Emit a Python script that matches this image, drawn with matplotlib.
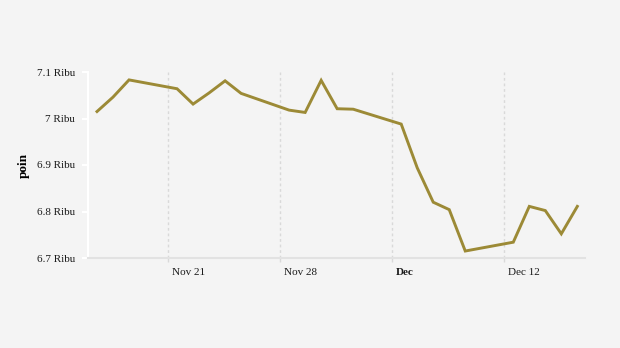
from datetime import datetime, timedelta

import matplotlib.pyplot as plt
import matplotlib.dates as mdates
import matplotlib.transforms as mtransforms


plt.rcParams['font.family'] = ['Liberation Serif', 'DejaVu Serif']

dates = ['2022-11-16', '2022-11-17', '2022-11-18', '2022-11-21', '2022-11-22',
         '2022-11-23', '2022-11-24', '2022-11-25', '2022-11-28', '2022-11-29',
         '2022-11-30', '2022-12-01', '2022-12-02', '2022-12-05', '2022-12-06',
         '2022-12-07', '2022-12-08', '2022-12-09', '2022-12-12', '2022-12-13',
         '2022-12-14', '2022-12-15', '2022-12-16']
values = [7015, 7046, 7083, 7064, 7031, 7055, 7081, 7054, 7018, 7013,
          7082, 7021, 7020, 6988, 6894, 6820, 6804, 6715, 6734, 6811,
          6802, 6752, 6811]

tick_dates = ['2022-11-21', '2022-11-28', '2022-12-05', '2022-12-12']
tick_labels = ['Nov 21', 'Nov 28', 'Dec', 'Dec 12']
y_ticks = [6700, 6800, 6900, 7000, 7100]
y_labels = ['6.7 Ribu', '6.8 Ribu', '6.9 Ribu', '7 Ribu', '7.1 Ribu']

bg = '#f4f4f4'
line_color = '#9c8a36'
grid_color = '#d9d9d9'

# closing time of the session, points sit past midnight
x = [datetime.strptime(d, '%Y-%m-%d') + timedelta(hours=13.5) for d in dates]
xt = [datetime.strptime(d, '%Y-%m-%d') for d in tick_dates]

fig = plt.figure(figsize=(6.2, 3.48), dpi=100, facecolor=bg)
ax = fig.add_axes([88 / 620, 1 - 258 / 348, (585 - 88) / 620, (258 - 72) / 348])
ax.set_facecolor(bg)

for t in xt:
    ax.axvline(t, color=grid_color, lw=1, ls=(0, (2, 2)), zorder=1)

ax.plot(x, values, color=line_color, lw=2.1, solid_joinstyle='miter', zorder=3)

ax.set_xlim(datetime(2022, 11, 16), datetime(2022, 12, 17, 1))
ax.set_ylim(6700, 7100)

ax.set_yticks(y_ticks)
ax.set_yticklabels(y_labels, fontsize=8, color='#1a1a1a')
ax.tick_params(axis='y', length=4.5, width=1.5, color='white', pad=5)

ax.set_xticks(xt)
ax.set_xticklabels(tick_labels, fontsize=8, color='#1a1a1a', ha='left')
ax.tick_params(axis='x', length=3, width=1, color=grid_color, pad=4)
offset = mtransforms.ScaledTranslation(4 / 100, 0, fig.dpi_scale_trans)
for lab in ax.get_xticklabels():
    lab.set_transform(lab.get_transform() + offset)
    if lab.get_text() == 'Dec':
        lab.set_fontweight('bold')

for side in ['top', 'right']:
    ax.spines[side].set_visible(False)
ax.spines['left'].set_color('white')
ax.spines['left'].set_linewidth(1.5)
ax.spines['bottom'].set_color('#e2e2e2')
ax.spines['bottom'].set_linewidth(1.5)

ax.set_ylabel('poin', fontsize=9.5, fontweight='bold', labelpad=5)

fig.savefig('out.png', dpi=100, facecolor=bg)
